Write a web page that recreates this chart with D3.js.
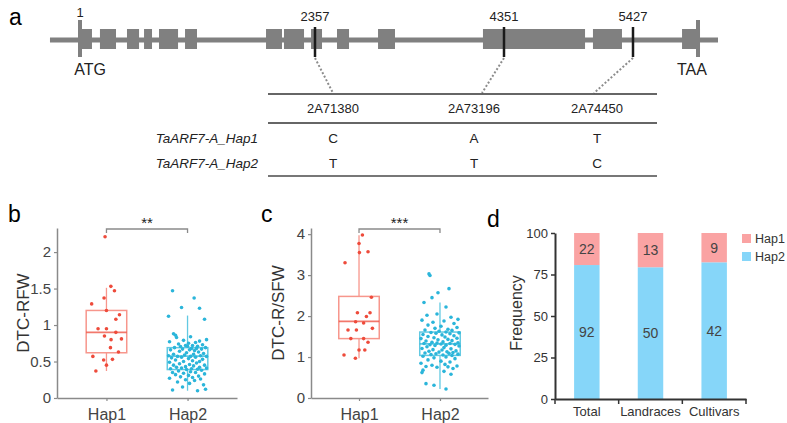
<!DOCTYPE html>
<html>
<head>
<meta charset="utf-8">
<script src="https://cdn.jsdelivr.net/npm/d3@7"></script>
<style>
  body { margin: 0; background: #fff; }
  svg { font-family: "Liberation Sans", Arial, sans-serif; }
</style>
</head>
<body>
<svg id="fig" width="787" height="423"></svg>
<script>
// ---- panel a : gene model (bp positions) ----
var geneSpan = [-300, 6136];
var exons = [[1,121],[201,362],[472,593],[643,723],[793,984],[1054,1174],[1866,2026],[2046,2247],
             [2317,2431],[2589,2716],[3022,3201],[4129,5027],[5093,5335],[5836,5986]];
var startCodon = 1, stopCodon = 5969;
var snpPos = [2357, 4351, 5427];
var snpIds = ["2A71380", "2A73196", "2A74450"];
var hapNames = ["TaARF7-A_Hap1", "TaARF7-A_Hap2"];
var hapAlleles = [["C", "A", "T"], ["T", "T", "C"]];

// ---- panel b / c : box plots ----
var groups = ["Hap1", "Hap2"];
var boxB = [[0.37, 0.62, 0.90, 1.20, 1.51], [0.10, 0.39, 0.575, 0.69, 1.13]];   // lo, q1, median, q3, hi
var boxC = [[0.97, 1.45, 1.87, 2.48, 3.97], [0.22, 1.04, 1.32, 1.61, 2.33]];
var ticksB = [0, 0.5, 1, 1.5, 2];
var ticksC = [0, 1, 2, 3, 4];
// points: [jitter, value]
var ptsB1 = [[-0.07,2.21],[0.22,1.53],[0.4,1.47],[-0.12,1.37],[-0.74,1.29],[0,1.2],[0.65,1.14],[0.47,1.08],
  [-0.42,0.95],[0,0.95],[0.47,0.90],[-0.1,0.85],[0.23,0.80],[0.75,0.81],[0.2,0.69],[0.6,0.63],[-0.68,0.57],
  [-0.14,0.52],[0.3,0.53],[0,0.45],[-0.53,0.37]];
var ptsB2 = [[-0.75,1.47],[0.33,1.37],[-0.3,1.24],[0.6,1.23],[-0.95,1.12],[0.85,1.08],[-0.7,0.88],[-0.6,0.86],
  [0.15,0.84],[-0.55,0.83],[0.95,0.80],[-0.2,0.79],[0.6,0.78],[-0.9,0.77],[0.4,0.76],[0.05,0.75],[-0.45,0.74],
  [0.75,0.73],[0.25,0.72],[-0.1,0.72],[0.5,0.71],[0,0.71],[-0.35,0.705],
  [0.9,0.69],[-0.65,0.69],[0.2,0.68],[0.45,0.68],[-0.25,0.67],[0.7,0.67],[-0.85,0.66],[0.1,0.66],[0.35,0.65],
  [-0.4,0.64],[0.55,0.63],[-0.05,0.62],[0.8,0.61],[-0.7,0.60],[0.3,0.60],[-0.15,0.59],[0.65,0.58],[-0.95,0.58],
  [0.15,0.57],[-0.5,0.57],[0.95,0.57],[0.4,0.56],[-0.3,0.56],[-0.8,0.55],[0.05,0.54],[0.75,0.53],[-0.6,0.52],
  [0.25,0.51],[-0.2,0.50],[0.6,0.50],[-0.9,0.49],[0.45,0.48],[-0.4,0.47],[0.1,0.46],[0.85,0.45],[-0.7,0.45],
  [0.3,0.44],[-0.1,0.43],[0.6,0.42],[-0.55,0.42],[0.95,0.41],[-0.3,0.41],[0.2,0.40],[-0.85,0.40],[0.5,0.395],[-0.05,0.39],
  [0.7,0.38],[-0.45,0.37],[0.15,0.36],[-0.75,0.35],[0.4,0.35],[-0.2,0.34],[0.85,0.33],[-0.6,0.32],[0.05,0.31],
  [0.55,0.30],[-0.35,0.29],[0.25,0.28],[-0.9,0.27],[0.65,0.26],[-0.1,0.25],[0.35,0.24],[-0.5,0.22],[0.1,0.20],
  [0.8,0.18],[-0.25,0.15],[0.9,0.12],[-0.75,0.11],[0.5,0.10]];
var ptsC1 = [[0.17,3.98],[0,3.77],[0.45,3.57],[0.02,3.55],[-0.7,3.30],[0.62,2.46],[-0.08,2.08],[0.55,2.08],
  [0.37,1.99],[-0.17,1.86],[0.23,1.83],[-0.55,1.66],[-0.13,1.66],[0.67,1.70],[-0.41,1.45],[0.23,1.45],
  [0.45,1.36],[-0.75,1.05],[-0.18,0.97],[0,1.17],[0.29,1.17]];
var ptsC2 = [[-0.55,3.03],[-0.5,2.99],[0.45,2.67],[-0.1,2.57],[-0.4,2.45],[-0.8,2.33],[0.3,2.22],[-0.15,2.05],
  [-0.65,2.02],[0.55,1.97],[0.9,1.92],[-0.9,1.90],[0.2,1.88],[-0.35,1.85],[0.7,1.82],[-0.6,1.78],[0.05,1.75],
  [0.85,1.72],[-0.25,1.70],[0.4,1.68],[-0.75,1.66],[0.6,1.65],[-0.05,1.63],
  [0.3,1.61],[-0.45,1.60],[0.95,1.59],[-0.2,1.58],[0.5,1.57],[-0.85,1.55],[0.1,1.54],[0.7,1.52],[-0.6,1.50],
  [0.25,1.49],[-0.3,1.47],[0.85,1.46],[-0.95,1.45],[0.4,1.43],[-0.1,1.42],[0.6,1.40],[-0.7,1.39],[0.15,1.37],
  [-0.4,1.36],[0.9,1.35],[-0.15,1.34],[0.5,1.33],[-0.8,1.33],[0.05,1.32],[0.75,1.31],[-0.5,1.30],[0.3,1.29],
  [-0.25,1.28],[0.95,1.27],[-0.65,1.25],[0.2,1.23],[-0.9,1.21],[0.55,1.20],[-0.35,1.18],[0.1,1.17],[0.8,1.15],
  [-0.55,1.14],[0.35,1.13],[-0.05,1.12],[0.65,1.11],[-0.75,1.10],[0.45,1.09],[-0.2,1.08],[0.9,1.07],[-0.45,1.06],[0.15,1.05],
  [0.6,1.04],[-0.85,1.02],[0.3,1.00],[-0.3,0.98],[0.75,0.96],[-0.6,0.93],[0.05,0.90],[0.5,0.88],[-0.95,0.85],
  [0.25,0.82],[-0.4,0.80],[0.85,0.78],[-0.7,0.77],[0.4,0.76],[-0.15,0.75],[0.65,0.72],[-0.85,0.68],[0.2,0.65],
  [-0.9,0.62],[0.55,0.58],[-0.7,0.35],[-0.3,0.31],[0.3,0.22]];

// ---- panel d : stacked frequency ----
var popCats = ["Total", "Landraces", "Cultivars"];
var hap1Count = [22, 13, 9];
var hap2Count = [92, 50, 42];
var freqTicks = [0, 25, 50, 75, 100];

var svg = d3.select("#fig");
var col1 = "#EE4B3B", col1box = "#F7968C", col2 = "#2BB5DA", col2box = "#62C9E2";
var pink = "#FAA3A3", blue = "#86D6F9";

function panelLabel(t, x, y) {
  svg.append("text").attr("x", x).attr("y", y).attr("font-size", 23).attr("fill", "#000").text(t);
}

// ================= panel a =================
panelLabel("a", 9, 25);
var gx = d3.scaleLinear().domain([1, 2357, 4351, 5427]).range([80, 315, 504, 633]);
var ga = svg.append("g");
ga.append("line").attr("x1", gx(geneSpan[0])).attr("x2", gx(geneSpan[1]))
  .attr("y1", 40).attr("y2", 40).attr("stroke", "#808080").attr("stroke-width", 5);
ga.selectAll("rect.exon").data(exons).enter().append("rect").attr("class", "exon")
  .attr("x", function(d) { return gx(d[0]); })
  .attr("width", function(d) { return gx(d[1]) - gx(d[0]); })
  .attr("y", 29).attr("height", 20).attr("fill", "#808080");
[startCodon, stopCodon].forEach(function(p) {
  ga.append("line").attr("x1", gx(p)).attr("x2", gx(p)).attr("y1", 20).attr("y2", 57)
    .attr("stroke", "#808080").attr("stroke-width", 4);
});
ga.append("text").attr("x", gx(startCodon)).attr("y", 17).attr("font-size", 13)
  .attr("text-anchor", "middle").attr("fill", "#222").text("1");
ga.append("text").attr("x", gx(startCodon) + 10).attr("y", 75).attr("font-size", 16)
  .attr("text-anchor", "middle").attr("fill", "#222").text("ATG");
ga.append("text").attr("x", gx(stopCodon) - 6).attr("y", 75).attr("font-size", 16)
  .attr("text-anchor", "middle").attr("fill", "#222").text("TAA");

var colX = [333, 474, 597];
snpPos.forEach(function(p, i) {
  ga.append("line").attr("x1", gx(p)).attr("x2", gx(p)).attr("y1", 27).attr("y2", 57)
    .attr("stroke", "#1a1a1a").attr("stroke-width", 2.5);
  ga.append("text").attr("x", gx(p)).attr("y", 21).attr("font-size", 13)
    .attr("text-anchor", "middle").attr("fill", "#222").text(p);
  ga.append("line").attr("x1", gx(p)).attr("y1", 58).attr("x2", [333, 482, 594][i]).attr("y2", 93)
    .attr("stroke", "#8c8c8c").attr("stroke-width", 2).attr("stroke-dasharray", "2,2");
});
// table
[[94, 1.5, "#333"], [123, 2, "#666"], [176, 2, "#777"]].forEach(function(r) {
  ga.append("line").attr("x1", 268).attr("x2", 657).attr("y1", r[0]).attr("y2", r[0])
    .attr("stroke", r[2]).attr("stroke-width", r[1]);
});
snpIds.forEach(function(s, i) {
  ga.append("text").attr("x", colX[i]).attr("y", 113).attr("font-size", 13)
    .attr("text-anchor", "middle").attr("fill", "#222").text(s);
});
hapNames.forEach(function(h, j) {
  var y = 143 + j * 25;
  ga.append("text").attr("x", 258).attr("y", y).attr("font-size", 13.5).attr("font-style", "italic")
    .attr("text-anchor", "end").attr("fill", "#222").text(h);
  hapAlleles[j].forEach(function(a, i) {
    ga.append("text").attr("x", colX[i]).attr("y", y).attr("font-size", 13.5)
      .attr("text-anchor", "middle").attr("fill", "#222").text(a);
  });
});

// ================= panels b / c =================
function boxPanel(opt) {
  var g = svg.append("g");
  var y = d3.scaleLinear().domain([0, opt.ymax]).range([398, 228]);
  var x = d3.scalePoint().domain(groups).range([opt.left, opt.right]).padding(opt.pad);
  var bw = x.step() * 0.5;
  var jw = 20;
  var yAxis = g.append("g").attr("transform", "translate(" + opt.left + ",0)")
    .call(d3.axisLeft(y).tickValues(opt.ticks).tickSize(3).tickSizeOuter(0).tickFormat(d3.format("")));
  var xAxis = g.append("g").attr("transform", "translate(0,398)")
    .call(d3.axisBottom(x).tickSize(3).tickSizeOuter(0));
  [yAxis, xAxis].forEach(function(a) {
    a.select(".domain").attr("stroke", "#8a8a8a").attr("stroke-width", 1.5);
    a.selectAll(".tick line").attr("stroke", "#8a8a8a").attr("stroke-width", 1.2);
    a.selectAll("text").attr("fill", "#444").attr("font-family", "Liberation Sans, Arial, sans-serif");
  });
  yAxis.selectAll("text").attr("font-size", 15);
  xAxis.selectAll("text").attr("font-size", 16).attr("dy", "1.0em");
  g.append("text").attr("transform", "translate(" + opt.titleX + ",313) rotate(-90)")
    .attr("text-anchor", "middle").attr("font-size", 17).attr("fill", "#333").text(opt.title);

  var cols = [[col1, col1box], [col2, col2box]];
  opt.box.forEach(function(s, i) {
    var cx = x(groups[i]);
    var c = cols[i][1];
    g.append("line").attr("x1", cx).attr("x2", cx).attr("y1", y(s[0])).attr("y2", y(s[1]))
      .attr("stroke", c).attr("stroke-width", 1.3);
    g.append("line").attr("x1", cx).attr("x2", cx).attr("y1", y(s[3])).attr("y2", y(s[4]))
      .attr("stroke", c).attr("stroke-width", 1.3);
    g.append("rect").attr("x", cx - bw / 2).attr("width", bw)
      .attr("y", y(s[3])).attr("height", y(s[1]) - y(s[3]))
      .attr("fill", "none").attr("stroke", c).attr("stroke-width", 1.5);
    g.append("line").attr("x1", cx - bw / 2).attr("x2", cx + bw / 2).attr("y1", y(s[2])).attr("y2", y(s[2]))
      .attr("stroke", cols[i][0]).attr("stroke-opacity", 0.75).attr("stroke-width", 1.8);
  });
  opt.pts.forEach(function(pts, i) {
    var cx = x(groups[i]);
    g.selectAll(null).data(pts).enter().append("circle")
      .attr("cx", function(d) { return cx + d[0] * jw; })
      .attr("cy", function(d) { return y(d[1]); })
      .attr("r", 1.8).attr("fill", cols[i][0]);
  });
  // significance bracket
  var x1 = x(groups[0]), x2 = x(groups[1]);
  g.append("path").attr("d", "M" + x1 + ",233V229H" + x2 + "V233")
    .attr("fill", "none").attr("stroke", "#8a8a8a").attr("stroke-width", 1.3);
  g.append("text").attr("x", (x1 + x2) / 2).attr("y", 228).attr("text-anchor", "middle")
    .attr("font-size", 15).attr("fill", "#222").text(opt.sig);
}

panelLabel("b", 8, 222);
boxPanel({ left: 57, right: 237, pad: 0.61, ymax: 2.33, ticks: ticksB, box: boxB, pts: [ptsB1, ptsB2],
  title: "DTC-RFW", titleX: 29, sig: "**" });
panelLabel("c", 261, 222);
boxPanel({ left: 311, right: 488, pad: 0.593, ymax: 4.15, ticks: ticksC, box: boxC, pts: [ptsC1, ptsC2],
  title: "DTC-R/SFW", titleX: 284, sig: "***" });

// ================= panel d =================
panelLabel("d", 487, 227);
var gd = svg.append("g");
var dx = d3.scaleBand().domain(popCats).range([555, 746]).paddingInner(0.6).paddingOuter(0.3);
var dy = d3.scaleLinear().domain([0, 100]).range([399, 233]);
var stackData = popCats.map(function(c, i) {
  var tot = hap1Count[i] + hap2Count[i];
  return { cat: c, Hap2: hap2Count[i] / tot * 100, Hap1: hap1Count[i] / tot * 100, n1: hap1Count[i], n2: hap2Count[i] };
});
var series = d3.stack().keys(["Hap2", "Hap1"])(stackData);
var fills = { Hap1: pink, Hap2: blue };
series.forEach(function(s) {
  gd.selectAll(null).data(s).enter().append("rect")
    .attr("x", function(d) { return dx(d.data.cat); })
    .attr("width", dx.bandwidth())
    .attr("y", function(d) { return dy(d[1]); })
    .attr("height", function(d) { return dy(d[0]) - dy(d[1]); })
    .attr("fill", fills[s.key]);
  gd.selectAll(null).data(s).enter().append("text")
    .attr("x", function(d) { return dx(d.data.cat) + dx.bandwidth() / 2; })
    .attr("y", function(d) { return dy((d[0] + d[1]) / 2) + 5; })
    .attr("text-anchor", "middle").attr("font-size", 14).attr("fill", "#444")
    .text(function(d) { return s.key === "Hap1" ? d.data.n1 : d.data.n2; });
});
var dyAxis = gd.append("g").attr("transform", "translate(555,0)")
  .call(d3.axisLeft(dy).tickValues(freqTicks).tickSize(4).tickSizeOuter(0));
var dxAxis = gd.append("g").attr("transform", "translate(0,399)")
  .call(d3.axisBottom(dx).tickSize(0).tickSizeOuter(0));
[dyAxis, dxAxis].forEach(function(a) {
  a.select(".domain").attr("stroke", "#333").attr("stroke-width", 2);
  a.selectAll(".tick line").attr("stroke", "#333").attr("stroke-width", 1.5);
  a.selectAll("text").attr("fill", "#333").attr("font-size", 13)
    .attr("font-family", "Liberation Sans, Arial, sans-serif");
});
dyAxis.selectAll("text").attr("font-size", 13);
dxAxis.selectAll("text").attr("dy", "1.1em");
// band boundary ticks
d3.range(popCats.length + 1).forEach(function(i) {
  var px = 555 + i * dx.step();
  gd.append("line").attr("x1", px).attr("x2", px).attr("y1", 399).attr("y2", 404)
    .attr("stroke", "#333").attr("stroke-width", 1.5);
});
gd.append("text").attr("transform", "translate(522,313) rotate(-90)")
  .attr("text-anchor", "middle").attr("font-size", 16).attr("fill", "#333").text("Frequency");
["Hap1", "Hap2"].forEach(function(k, i) {
  gd.append("rect").attr("x", 742).attr("y", 234 + i * 18).attr("width", 9).attr("height", 9).attr("fill", fills[k]);
  gd.append("text").attr("x", 755).attr("y", 243 + i * 18).attr("font-size", 12.5).attr("fill", "#333").text(k);
});
</script>
</body>
</html>
